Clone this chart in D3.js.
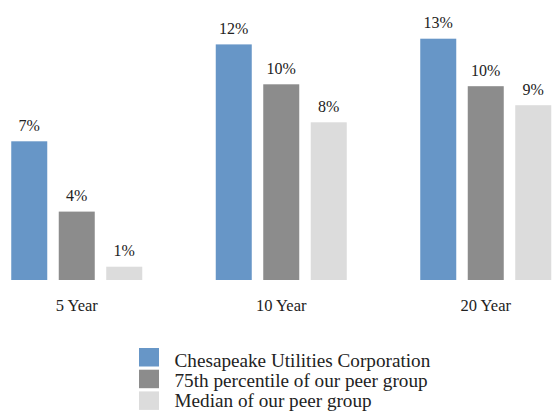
<!DOCTYPE html>
<html>
<head>
<meta charset="utf-8">
<script src="https://cdn.jsdelivr.net/npm/d3@7"></script>
<style>
  body { margin: 0; background: #fff; }
  text { font-family: "Liberation Serif", "Times New Roman", serif; fill: #222; }
</style>
</head>
<body>
<svg width="552" height="412"></svg>
<script>
// Chart data
const periods = ["5 Year", "10 Year", "20 Year"];
const seriesNames = ["Chesapeake Utilities Corporation", "75th percentile of our peer group", "Median of our peer group"];
const chesapeake = [7.3, 12.4, 12.7];
const peer75 = [3.6, 10.3, 10.2];
const peerMedian = [0.7, 8.3, 9.2];
const seriesColors = ["#6796c7", "#8c8c8c", "#dcdcdc"];

const seriesValues = [chesapeake, peer75, peerMedian];
const data = periods.map((p, i) => ({
  period: p,
  values: seriesNames.map((s, j) => ({ series: s, value: seriesValues[j][i], color: seriesColors[j] }))
}));

const svg = d3.select("svg");

// Scales
const x0 = d3.scaleBand().domain(periods).range([-25.5, 588]);
const x1 = d3.scaleBand().domain(seriesNames).range([-65.5, 65.5]).paddingInner(0.242);
const y = d3.scaleLinear().domain([0, 13]).range([280, 33]);

const groups = svg.append("g")
  .selectAll("g")
  .data(data)
  .enter()
  .append("g")
    .attr("transform", d => `translate(${x0(d.period) + x0.bandwidth() / 2},0)`);

// Bars
groups.selectAll("rect")
  .data(d => d.values)
  .enter()
  .append("rect")
    .attr("x", d => x1(d.series))
    .attr("y", d => y(d.value))
    .attr("width", x1.bandwidth())
    .attr("height", d => y(0) - y(d.value))
    .style("fill", d => d.color);

// Value labels
groups.selectAll("text.val")
  .data(d => d.values)
  .enter()
  .append("text")
    .attr("class", "val")
    .attr("x", d => x1(d.series) + x1.bandwidth() / 2)
    .attr("y", d => y(d.value) - 10.5)
    .attr("text-anchor", "middle")
    .style("font-size", "16px")
    .text(d => Math.round(d.value) + "%");

// Category labels
groups.append("text")
  .attr("x", 0)
  .attr("y", 310.5)
  .attr("text-anchor", "middle")
  .style("font-size", "16.5px")
  .text(d => d.period);

// Legend
const legend = svg.append("g").attr("transform", "translate(139,348)");
seriesNames.forEach((s, i) => {
  legend.append("rect")
    .attr("x", 0)
    .attr("y", i * 21.7)
    .attr("width", 20)
    .attr("height", 18.5)
    .style("fill", seriesColors[i]);
  legend.append("text")
    .attr("x", 35.5)
    .attr("y", 18.5 + i * 20)
    .style("font-size", "19.2px")
    .text(s);
});
</script>
</body>
</html>
